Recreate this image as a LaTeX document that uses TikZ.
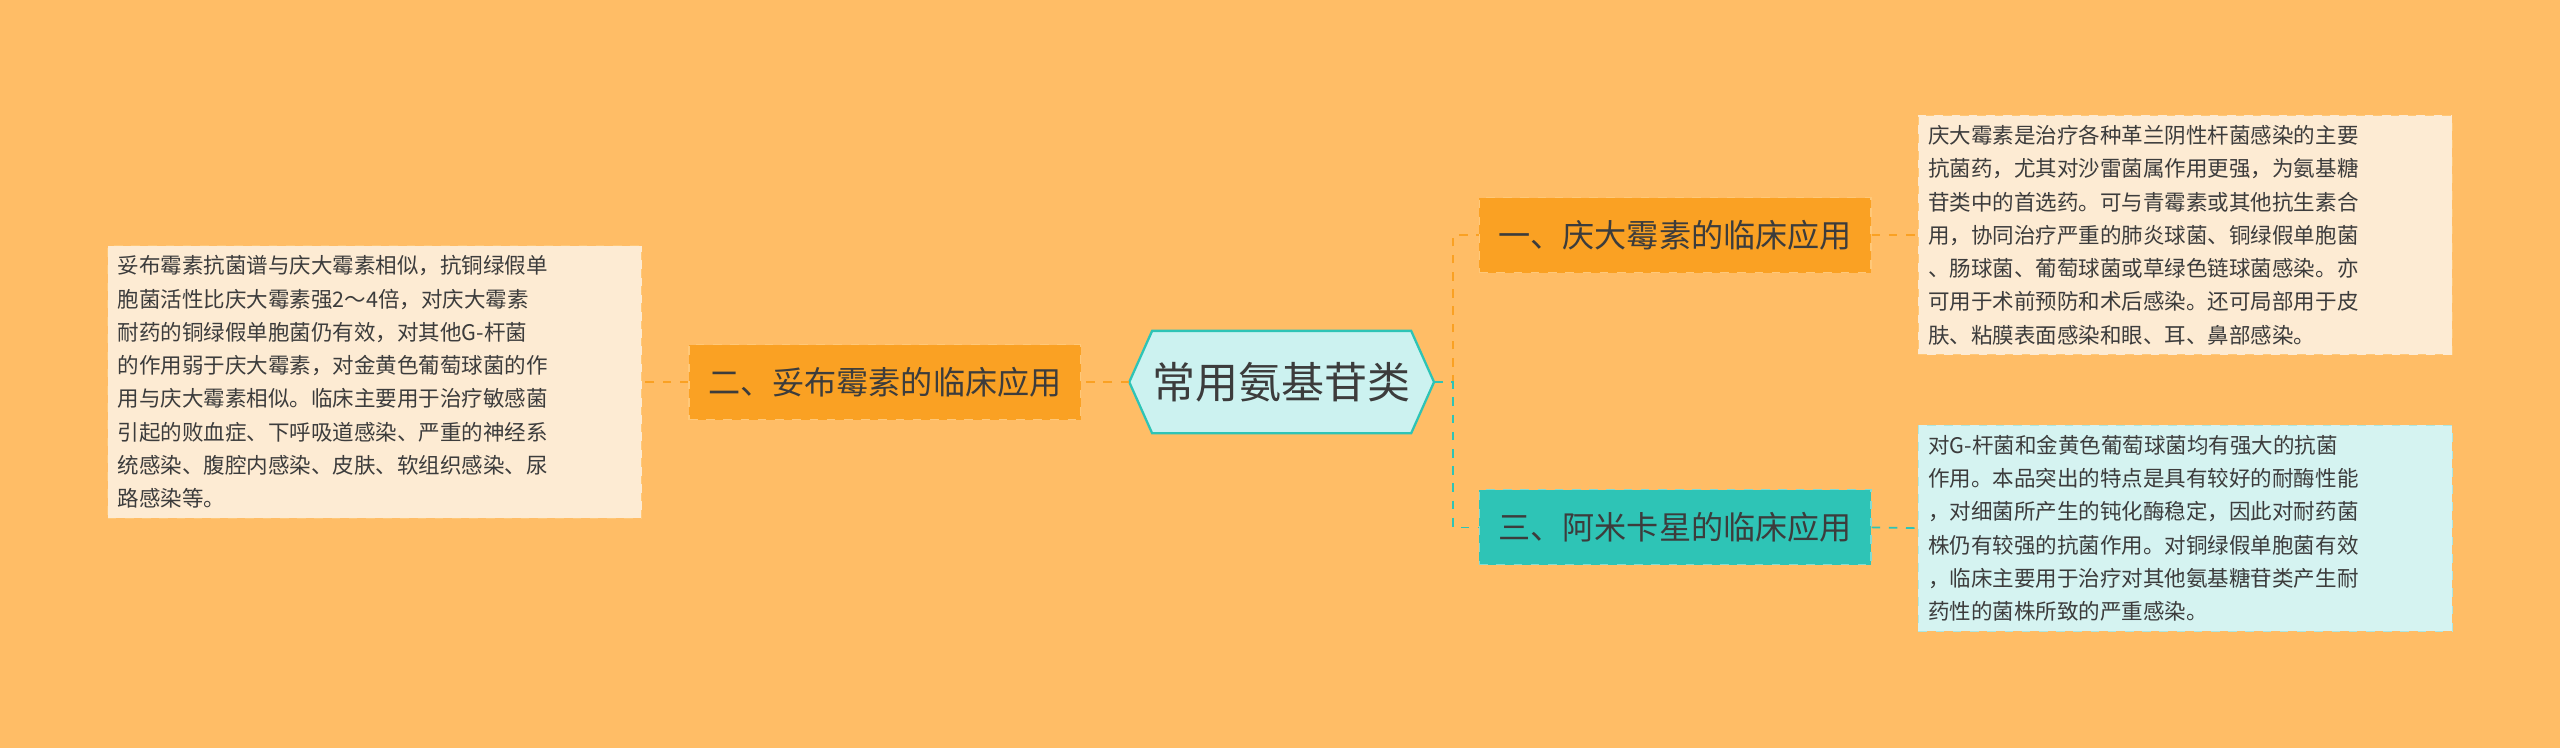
\documentclass[tikz,border=0pt]{standalone}
\usepackage{fontspec}
\newfontfamily\cjk{Noto Sans CJK SC}
\definecolor{bg}{RGB}{255,189,102}
\definecolor{org}{RGB}{250,161,35}
\definecolor{orgb}{RGB}{255,200,120}
\definecolor{cream}{RGB}{253,235,211}
\definecolor{teal}{RGB}{46,196,182}
\definecolor{lcyan}{RGB}{213,243,241}
\definecolor{ccen}{RGB}{204,242,240}
\definecolor{txt}{RGB}{60,60,60}
\tikzset{
  lbl/.style={draw=orgb,dashed,fill=org,minimum width=4.8cm,minimum height=0.92cm,font=\cjk\fontsize{11.2}{13}\selectfont,text=txt,inner sep=0},
  desc/.style={draw=orgb,dashed,fill=cream,text width=6.3cm,align=left,font=\cjk\fontsize{7.5}{11.6}\selectfont,text=txt,inner sep=0.12cm},
  conn/.style={draw=org,dashed,line width=0.6pt},
  connt/.style={draw=teal,dashed,line width=0.6pt}
}
\begin{document}
\begin{tikzpicture}[x=0.02cm,y=-0.02cm]
\fill[bg] (0,0) rectangle (1568,458);
\useasboundingbox (0,0) rectangle (1568,458);
\node[minimum width=3.72cm,minimum height=1.24cm,inner sep=0,font=\cjk\fontsize{15}{17}\selectfont,text=txt] (c) at (785,234) {};
\draw[teal,line width=0.8pt,fill=ccen] (c.west) -- ([xshift=0.28cm]c.north west) -- ([xshift=-0.28cm]c.north east) -- (c.east) -- ([xshift=-0.28cm]c.south east) -- ([xshift=0.28cm]c.south west) -- cycle;
\node[font=\cjk\fontsize{15}{17}\selectfont,text=txt] at (c.center) {常用氨基苷类};
\node[lbl] (l) at (542,234) {二、妥布霉素的临床应用};
\node[lbl] (r1) at (1026,144) {一、庆大霉素的临床应用};
\node[lbl,fill=teal,draw=teal!60] (r2) at (1026,323) {三、阿米卡星的临床应用};
\node[desc] (lt) at (229.5,234) {妥布霉素抗菌谱与庆大霉素相似，抗铜绿假单\\胞菌活性比庆大霉素强2～4倍，对庆大霉素\\耐药的铜绿假单胞菌仍有效，对其他G-杆菌\\的作用弱于庆大霉素，对金黄色葡萄球菌的作\\用与庆大霉素相似。临床主要用于治疗敏感菌\\引起的败血症、下呼吸道感染、严重的神经系\\统感染、腹腔内感染、皮肤、软组织感染、尿\\路感染等。};
\node[desc] (t1) at (1338.5,144) {庆大霉素是治疗各种革兰阴性杆菌感染的主要\\抗菌药，尤其对沙雷菌属作用更强，为氨基糖\\苷类中的首选药。可与青霉素或其他抗生素合\\用，协同治疗严重的肺炎球菌、铜绿假单胞菌\\、肠球菌、葡萄球菌或草绿色链球菌感染。亦\\可用于术前预防和术后感染。还可局部用于皮\\肤、粘膜表面感染和眼、耳、鼻部感染。};
\node[desc,fill=lcyan,draw=teal!40] (t2) at (1338.5,323.5) {对G-杆菌和金黄色葡萄球菌均有强大的抗菌\\作用。本品突出的特点是具有较好的耐酶性能\\，对细菌所产生的钝化酶稳定，因此对耐药菌\\株仍有较强的抗菌作用。对铜绿假单胞菌有效\\，临床主要用于治疗对其他氨基糖苷类产生耐\\药性的菌株所致的严重感染。};
\draw[conn] (c.west) -- (l.east);
\draw[conn] (l.west) -- (lt.east);
\draw[conn] (c.east) -- (890,234) |- (r1.west);
\draw[connt] (c.east) -- (890,234) |- (r2.west);
\draw[conn] (r1.east) -- (t1.west);
\draw[connt] (r2.east) -- (t2.west);
\end{tikzpicture}
\end{document}
